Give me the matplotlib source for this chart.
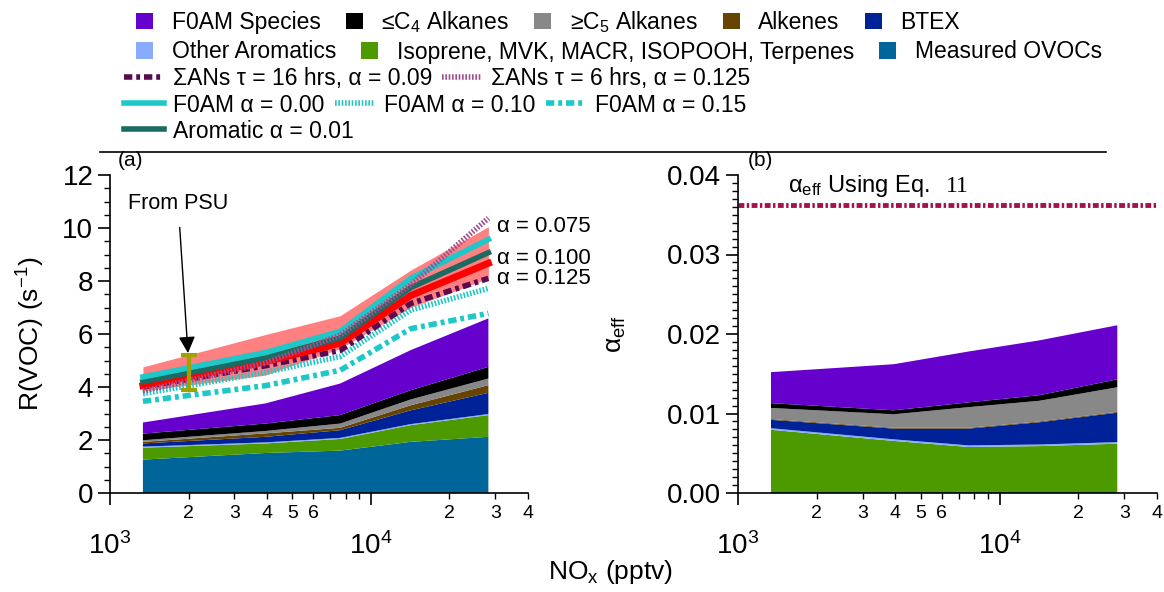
import numpy as np
import matplotlib.pyplot as plt
from matplotlib.patches import Patch
from matplotlib.lines import Line2D
from matplotlib.ticker import FixedLocator, FixedFormatter, MultipleLocator, FormatStrFormatter

plt.rcParams['font.family'] = ['Liberation Sans', 'DejaVu Sans']
plt.rcParams['mathtext.default'] = 'regular'

# NOx bins (pptv)
nox = [1337, 3939, 7620, 14200, 28200]

# (a) R(VOC) contributions, s-1 (stacked bottom -> top)
r_ovoc = [1.26, 1.51, 1.60, 1.93, 2.12]
r_isop = [0.45, 0.36, 0.44, 0.63, 0.82]
r_oarom = [0.04, 0.04, 0.04, 0.04, 0.04]
r_btex = [0.12, 0.21, 0.29, 0.52, 0.80]
r_alkene = [0.06, 0.13, 0.09, 0.19, 0.29]
r_c5 = [0.06, 0.09, 0.16, 0.22, 0.25]
r_c4 = [0.25, 0.28, 0.32, 0.35, 0.44]
r_f0am = [0.42, 0.76, 1.19, 1.51, 1.83]

# (a) lines
band_hi = [4.76, 5.98, 6.69, 8.41, 10.05]
band_lo = [3.85, 4.45, 5.45, 7.00, 8.10]
red_mid = [4.05, 4.95, 5.65, 7.45, 8.67]
f0am_a000 = [4.38, 5.30, 6.10, 8.10, 9.57]
arom_a001 = [4.20, 5.10, 5.85, 7.75, 9.07]
ans_16h = [4.00, 4.80, 5.38, 7.15, 8.10]
ans_6h = [3.85, 4.90, 5.95, 7.85, 10.37]
f0am_a010 = [3.75, 4.55, 5.15, 6.90, 7.72]
f0am_a015 = [3.46, 4.05, 4.63, 6.20, 6.78]
psu_nox, psu_r, psu_err = 2000, 4.55, 0.65
alpha_labels = ['α = 0.075', 'α = 0.100', 'α = 0.125']
alpha_label_y = [10.07, 8.86, 8.11]

# (b) alpha_eff contributions
a_ovoc = [0.0001, 0.0001, 0.0001, 0.0001, 0.0001]
a_isop = [0.00785, 0.00645, 0.00569, 0.0058, 0.0061]
a_oarom = [0.0002, 0.0002, 0.0002, 0.0002, 0.0002]
a_btex = [0.00105, 0.00135, 0.00211, 0.0028, 0.0037]
a_alkene = [0.0001, 0.0001, 0.0001, 0.0001, 0.0001]
a_c5 = [0.0014, 0.0017, 0.0026, 0.0026, 0.0031]
a_c4 = [0.0006, 0.0005, 0.0006, 0.0007, 0.0010]
a_f0am = [0.0039, 0.0058, 0.0064, 0.0069, 0.0068]
alpha_eq11 = 0.0362

cols = {'ovoc': '#006699', 'isop': '#4c9900', 'oarom': '#88aaff', 'btex': '#002299',
        'alkene': '#664400', 'c5': '#888888', 'c4': '#000000', 'f0am': '#6600cc'}
order = ['ovoc', 'isop', 'oarom', 'btex', 'alkene', 'c5', 'c4', 'f0am']
cyan = '#1ec8c8'
dashdot = (0, (1.5, 0.7, 0.7, 0.7))
fine = (0, (0.3, 0.3))

fig = plt.figure(figsize=(11.64, 5.92), dpi=100)
ax1 = fig.add_axes([110/1164, 99/592, 418/1164, 318/592])
ax2 = fig.add_axes([738/1164, 99/592, 419/1164, 318/592])

ax1.stackplot(nox, r_ovoc, r_isop, r_oarom, r_btex, r_alkene, r_c5, r_c4, r_f0am,
              colors=[cols[k] for k in order], linewidth=0)
ax1.fill_between(nox, band_lo, band_hi, color='#ff8080', lw=0)
ax1.plot(nox, f0am_a015, color=cyan, lw=4, ls=dashdot)
ax1.plot(nox, f0am_a010, color=cyan, lw=4, ls=fine)
ax1.plot(nox, ans_16h, color='#5a0a50', lw=4, ls=dashdot)
ax1.plot(nox, red_mid, color='#ff0000', lw=5)
ax1.plot(nox, arom_a001, color='#1b6b62', lw=4)
ax1.plot(nox, f0am_a000, color=cyan, lw=4)
ax1.plot(nox, ans_6h, color='#a05090', lw=4, ls=fine)
ax1.errorbar([psu_nox], [psu_r], yerr=[psu_err], fmt='none', ecolor='#a0a000',
             elinewidth=3, capsize=6, capthick=3)
ax1.annotate('From PSU', xy=(1990, 5.28), xytext=(1172, 10.94), fontsize=15.5,
             va='center', ha='left',
             arrowprops=dict(arrowstyle='-|>', color='black', lw=1, mutation_scale=25,
                             shrinkA=8, shrinkB=0))
for lab, yy in zip(alpha_labels, alpha_label_y):
    ax1.text(30300, yy, lab, fontsize=16, va='center', ha='left')

ax2.stackplot(nox, a_ovoc, a_isop, a_oarom, a_btex, a_alkene, a_c5, a_c4, a_f0am,
              colors=[cols[k] for k in order], linewidth=0)
ax2.axhline(alpha_eq11, color='#a3124f', lw=3.5, ls=(0, (1.2, 0.5, 0.5, 0.5)))
ax2.text(0.119, 0.965, 'α$_{eff}$ Using Eq.', transform=ax2.transAxes, fontsize=17,
         va='center', ha='left')
ax2.text(0.496, 0.965, '11', transform=ax2.transAxes, fontsize=17,
         family='Liberation Serif', va='center', ha='left')

for ax in (ax1, ax2):
    ax.set_xscale('log')
    ax.set_xlim(1000, 40000)
    ax.spines['top'].set_visible(False)
    ax.spines['right'].set_visible(False)
    for s in ('left', 'bottom'):
        ax.spines[s].set_linewidth(1.2)
    ax.xaxis.set_major_locator(FixedLocator([1e3, 1e4]))
    ax.xaxis.set_major_formatter(FixedFormatter(['$10^3$', '$10^4$']))
    ax.xaxis.set_minor_locator(FixedLocator([2e3, 3e3, 4e3, 5e3, 6e3, 7e3, 8e3, 9e3,
                                             2e4, 3e4, 4e4]))
    ax.xaxis.set_minor_formatter(FixedFormatter(['2', '3', '4', '5', '6', '', '', '',
                                                 '2', '3', '4']))
    ax.tick_params(which='major', direction='out', length=8.5, width=1.2, labelsize=20)
    ax.tick_params(which='minor', direction='out', length=4.3, width=1.0)
    ax.tick_params(axis='x', which='minor', labelsize=14, pad=4)
    ax.tick_params(axis='x', which='major', pad=20)

ax1.set_ylim(0, 12)
ax1.yaxis.set_major_locator(MultipleLocator(2))
ax1.yaxis.set_minor_locator(MultipleLocator(0.5))
ax1.set_ylabel('R(VOC) (s$^{-1}$)', fontsize=19)
ax1.yaxis.set_label_coords(-0.151, 0.5)

ax2.set_ylim(0, 0.04)
ax2.yaxis.set_major_locator(MultipleLocator(0.01))
ax2.yaxis.set_minor_locator(MultipleLocator(0.001))
ax2.yaxis.set_major_formatter(FormatStrFormatter('%.2f'))
ax2.set_ylabel('α$_{eff}$', fontsize=19)
ax2.yaxis.set_label_coords(-0.263, 0.5)

fig.text(610/1164, 1 - 572/592, 'NO$_x$ (pptv)', fontsize=19, ha='center', va='center')
fig.text(118/1164, 1 - 160/592, '(a)', fontsize=15, ha='left', va='center')
fig.text(748/1164, 1 - 160/592, '(b)', fontsize=15, ha='left', va='center')
fig.add_artist(Line2D([100/1164, 1106/1164], [1 - 152/592] * 2, color='black', lw=1.2))

# legend rows
sq = lambda k: Patch(facecolor=cols[k], edgecolor='none')
rows = [
    ([sq('f0am'), sq('c4'), sq('c5'), sq('alkene'), sq('btex')],
     ['F0AM Species', '≤C$_4$ Alkanes', '≥C$_5$ Alkanes', 'Alkenes', 'BTEX'], 136, 22, 0.75, 0.8, 1.1),
    ([sq('oarom'), sq('isop'), sq('ovoc')],
     ['Other Aromatics', 'Isoprene, MVK, MACR, ISOPOOH, Terpenes', 'Measured OVOCs'], 136, 52, 0.75, 0.8, 1.1),
    ([Line2D([], [], color='#5a0a50', lw=4, ls=dashdot),
      Line2D([], [], color='#a05090', lw=4, ls=fine)],
     ['ΣANs τ = 16 hrs, α = 0.09', 'ΣANs τ = 6 hrs, α = 0.125'], 124, 79, 1.75, 0.4, 0.4),
    ([Line2D([], [], color=cyan, lw=4),
      Line2D([], [], color=cyan, lw=4, ls=fine),
      Line2D([], [], color=cyan, lw=4, ls=dashdot)],
     ['F0AM α = 0.00', 'F0AM α = 0.10', 'F0AM α = 0.15'], 124, 105, 1.75, 0.4, 0.45),
    ([Line2D([], [], color='#1b6b62', lw=4)], ['Aromatic α = 0.01'], 124, 131, 1.75, 0.4, 0.4),
]
for handles, labels, x0, y0, hl, tp, cs in rows:
    fig.legend(handles, labels, loc='center left', bbox_to_anchor=(x0/1164, 1 - y0/592),
               ncol=len(handles), frameon=False, fontsize=16.5, handlelength=hl,
               handleheight=0.75, handletextpad=tp, columnspacing=cs,
               borderpad=0, borderaxespad=0)

fig.savefig('out.png', dpi=100)
